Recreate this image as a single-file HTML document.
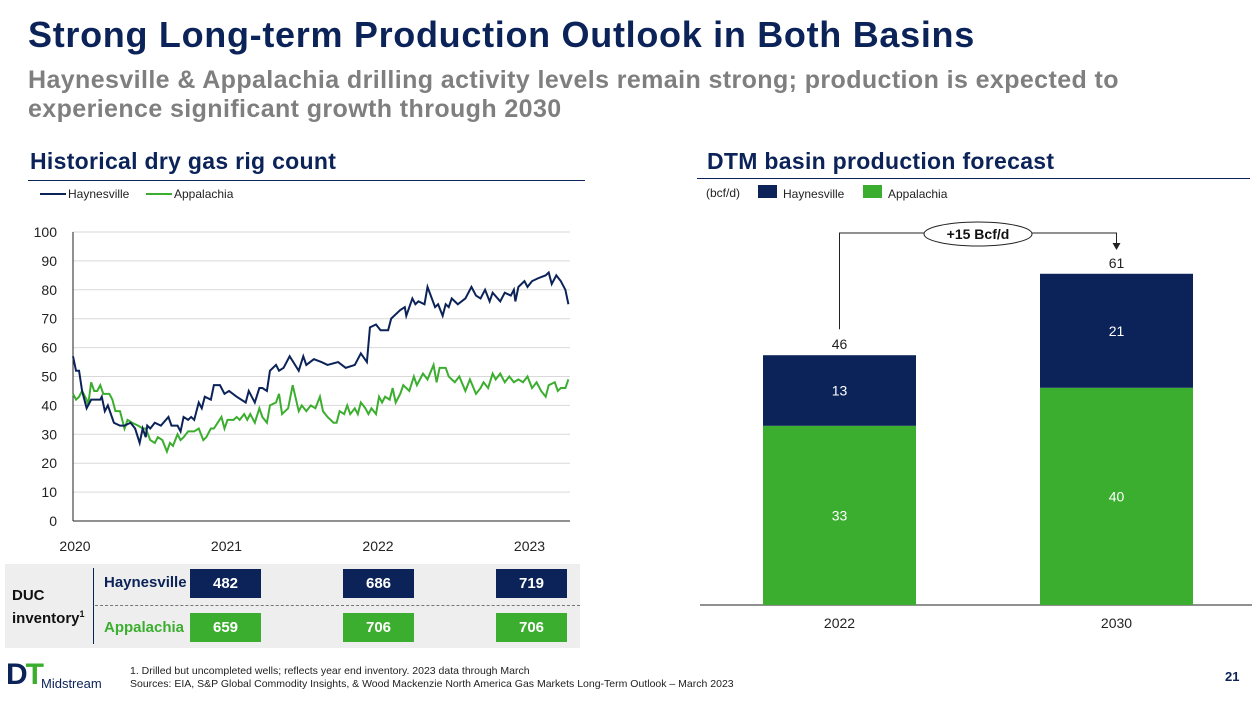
<!DOCTYPE html>
<html><head><meta charset="utf-8"><style>
body{margin:0;width:1257px;height:701px;background:#fff;font-family:"Liberation Sans",sans-serif;position:relative;overflow:hidden}
.abs{position:absolute}
</style></head><body>
<div class="abs" style="left:28px;top:14px;font-size:36px;font-weight:bold;color:#0b2358;letter-spacing:0.7px;white-space:nowrap">Strong Long-term Production Outlook in Both Basins</div>
<div class="abs" style="left:28px;top:66px;font-size:25px;font-weight:bold;color:#7f7f7f;line-height:29px;width:1165px;letter-spacing:0.4px">Haynesville &amp; Appalachia drilling activity levels remain strong; production is expected to experience significant growth through 2030</div>
<div class="abs" style="left:30px;top:148px;font-size:23px;font-weight:bold;color:#0b2358;letter-spacing:0.3px">Historical dry gas rig count</div>
<div class="abs" style="left:28px;top:180px;width:557px;height:1px;background:#0b2358"></div>
<div class="abs" style="left:707px;top:148px;font-size:23px;font-weight:bold;color:#0b2358;letter-spacing:0.3px">DTM basin production forecast</div>
<div class="abs" style="left:697px;top:178px;width:553px;height:1px;background:#0b2358"></div>

<svg class="abs" style="left:0;top:0" width="1257" height="701" id="svg">
<g font-size="12" fill="#222">
<line x1="40" y1="194" x2="66" y2="194" stroke="#0b2358" stroke-width="2"/><text x="68" y="198">Haynesville</text>
<line x1="146" y1="194" x2="172" y2="194" stroke="#3cae2f" stroke-width="2"/><text x="174" y="198">Appalachia</text>
</g>
<g font-size="12" fill="#222">
<text x="706" y="197">(bcf/d)</text>
<rect x="758" y="185" width="19" height="13" fill="#0b2358"/><text x="783" y="198">Haynesville</text>
<rect x="863" y="185" width="19" height="13" fill="#3cae2f"/><text x="888" y="198">Appalachia</text>
</g>
<g id="rig"></g>
<g id="bars"></g>
</svg>

<div class="abs" style="left:5px;top:564px;width:575px;height:84px;background:#eeeeee"></div>
<div class="abs" style="left:12px;top:586px;font-size:15px;font-weight:bold;color:#111;line-height:19px">DUC<br>inventory<sup style="font-size:9px">1</sup></div>
<div class="abs" style="left:93px;top:568px;width:1px;height:76px;background:#0b2358"></div>
<div class="abs" style="left:95px;top:605px;width:485px;border-top:1px dashed #777"></div>
<div class="abs" style="left:104px;top:574px;font-size:15px;font-weight:bold;color:#0b2358">Haynesville</div>
<div class="abs" style="left:104px;top:619px;font-size:15px;font-weight:bold;color:#3cae2f">Appalachia</div>
<div id="duc"></div>

<div class="abs" style="left:6px;top:660px;font-size:30px;font-weight:900;color:#3cae2f;letter-spacing:-2px;line-height:30px"><span style="color:#0b2358">D</span>T</div>
<div class="abs" style="left:41px;top:676px;font-size:13px;color:#0b2358">Midstream</div>
<div class="abs" style="left:130px;top:665px;font-size:10.5px;color:#222;line-height:13px;white-space:nowrap">1. Drilled but uncompleted wells; reflects year end inventory. 2023 data through March<br>Sources: EIA, S&amp;P Global Commodity Insights, &amp; Wood Mackenzie North America Gas Markets Long-Term Outlook – March 2023</div>
<div class="abs" style="left:1225px;top:669px;font-size:13px;font-weight:bold;color:#0b2358">21</div>

<script>
const yTicks=[0,10,20,30,40,50,60,70,80,90,100];
const xYears=[2020,2021,2022,2023];
const hX=[0,.02,.04,.06,.09,.12,.18,.19,.21,.23,.27,.31,.34,.38,.41,.44,.46,.48,.49,.51,.54,.58,.63,.65,.69,.71,.73,.76,.78,.80,.83,.85,.87,.91,.93,.97,1.00,1.03,1.08,1.14,1.16,1.20,1.23,1.25,1.28,1.30,1.34,1.36,1.39,1.43,1.49,1.52,1.54,1.59,1.64,1.68,1.75,1.80,1.86,1.90,1.94,1.96,2.00,2.03,2.08,2.10,2.16,2.19,2.20,2.24,2.26,2.28,2.32,2.34,2.39,2.41,2.44,2.46,2.48,2.50,2.54,2.59,2.63,2.66,2.69,2.72,2.75,2.77,2.82,2.85,2.89,2.91,2.92,2.94,2.98,3.00,3.03,3.07,3.12,3.14,3.16,3.19,3.22,3.25,3.27];
const hV=[57,52,52,45,39,42,42,43,38,40,34,33,33,34,32,27,32,29,33,32,34,33,36,33,33,31,36,35,36,35,41,39,43,42,47,47,44,45,43,41,45,41,46,46,45,52,54,52,53,57,52,57,54,56,55,54,55,53,54,58,55,67,68,66,66,70,73,74,71,77,75,76,75,81,74,75,71,75,74,77,75,77,81,78,77,80,76,79,76,79,78,80,76,81,83,81,83,84,85,86,82,85,83,80,75];
const aX=[0,.02,.04,.06,.09,.10,.12,.14,.16,.18,.20,.24,.26,.28,.31,.34,.36,.39,.43,.46,.48,.51,.54,.56,.59,.62,.64,.66,.69,.71,.73,.76,.80,.83,.86,.88,.91,.93,.98,1.00,1.02,1.06,1.08,1.10,1.13,1.15,1.17,1.20,1.23,1.25,1.28,1.30,1.34,1.36,1.38,1.42,1.45,1.49,1.51,1.54,1.57,1.60,1.63,1.65,1.68,1.72,1.74,1.76,1.79,1.81,1.83,1.86,1.88,1.90,1.93,1.95,1.97,2.00,2.02,2.04,2.06,2.09,2.11,2.13,2.16,2.18,2.22,2.25,2.27,2.31,2.34,2.38,2.40,2.42,2.46,2.48,2.52,2.55,2.59,2.62,2.66,2.69,2.71,2.74,2.77,2.79,2.82,2.85,2.88,2.91,2.94,2.97,3.00,3.03,3.06,3.09,3.12,3.14,3.18,3.20,3.22,3.25,3.27];
const aV=[44,42,43,45,42,40,48,45,45,47,44,44,42,38,38,32,35,34,33,32,32,28,27,29,28,24,27,26,30,28,29,31,31,32,28,29,32,32,36,32,35,35,36,35,37,35,37,34,39,36,34,40,41,44,37,39,47,38,40,38,40,39,43,38,36,34,34,38,37,40,37,39,37,41,39,37,39,37,43,41,43,42,46,41,44,47,45,50,47,51,49,54,48,53,53,50,48,50,45,49,44,46,48,46,51,49,51,48,50,48,49,48,50,46,48,45,43,47,48,45,46,46,49];
const barCats=['2022','2030'];
const appVals=[33,40];
const hayVals=[13,21];
const totals=[46,61];
const changeLabel='+15 Bcf/d';
const ducH=[482,686,719];
const ducA=[659,706,706];

const NS='http://www.w3.org/2000/svg';
function mk(tag,attrs,parent,txt){const e=document.createElementNS(NS,tag);for(const k in attrs)e.setAttribute(k,attrs[k]);if(txt!==undefined)e.textContent=txt;parent.appendChild(e);return e;}
const rig=document.getElementById('rig');
const X0=73,PXY=151.5,Y0=521,PXU=2.89;
const xs=t=>X0+t*PXY, ys=v=>Y0-v*PXU;
yTicks.forEach(t=>{
 if(t>0){const g=mk('line',{x1:73,x2:570,y1:ys(t),y2:ys(t),stroke:'#d9d9d9','stroke-width':1},rig);
 
 }
 const l=mk('text',{x:57,y:ys(t)+5,'text-anchor':'end','font-size':14,fill:'#222'},rig,t);
 
 
});
xYears.forEach(y=>{const l=mk('text',{x:xs(y-2020)+2,y:551,'text-anchor':'middle','font-size':14,fill:'#222'},rig,y);
 
 });
mk('line',{x1:73,x2:73,y1:232,y2:521,stroke:'#222'},rig);
mk('line',{x1:73,x2:570,y1:521,y2:521,stroke:'#222'},rig);
const pa=mk('polyline',{points:aX.map((t,i)=>xs(t)+','+ys(aV[i])).join(' '),fill:'none',stroke:'#3cae2f','stroke-width':2},rig);


const ph=mk('polyline',{points:hX.map((t,i)=>xs(t)+','+ys(hV[i])).join(' '),fill:'none',stroke:'#0b2358','stroke-width':2},rig);


const bars=document.getElementById('bars');
const BY=605,BS=5.43,bx=[763,1040],BW=153;
const by=v=>BY-v*BS;
mk('line',{x1:700,x2:1252,y1:BY,y2:BY,stroke:'#222'},bars);
barCats.forEach((c,i)=>{
 const a=mk('rect',{x:bx[i],y:by(appVals[i]),width:BW,height:appVals[i]*BS,fill:'#3cae2f'},bars);
 
 
 const h=mk('rect',{x:bx[i],y:by(appVals[i]+hayVals[i]),width:BW,height:hayVals[i]*BS,fill:'#0b2358'},bars);
 
 
 mk('text',{x:bx[i]+BW/2,y:by(appVals[i]/2)+5,'text-anchor':'middle','font-size':14,fill:'#fff'},bars,appVals[i]);
 mk('text',{x:bx[i]+BW/2,y:by(appVals[i]+hayVals[i]/2)+5,'text-anchor':'middle','font-size':14,fill:'#fff'},bars,hayVals[i]);
 const tl=mk('text',{x:bx[i]+BW/2,y:by(totals[i])-6,'text-anchor':'middle','font-size':14,fill:'#222'},bars,totals[i]);
 
 
 const xl=mk('text',{x:bx[i]+BW/2,y:628,'text-anchor':'middle','font-size':14,fill:'#222'},bars,c);
 
 
});
const c1=bx[0]+BW/2,c2=bx[1]+BW/2;
const br=mk('polyline',{points:`${c1},${by(totals[0])-26} ${c1},233 ${c2},233 ${c2},244`,fill:'none',stroke:'#222'},bars);


mk('polygon',{points:`${c2-4},243 ${c2+4},243 ${c2},250`,fill:'#222'},bars);
const el=mk('ellipse',{cx:978,cy:234,rx:54,ry:12,fill:'#fff',stroke:'#222'},bars);


mk('text',{x:978,y:239,'text-anchor':'middle','font-size':14,'font-weight':'bold',fill:'#111'},bars,changeLabel);
const duc=document.getElementById('duc');
const dx=[190,343,496];
[[ducH,'#0b2358',569,'haynesville'],[ducA,'#3cae2f',613,'appalachia']].forEach(([vals,col,top,nm])=>{
 vals.forEach((v,i)=>{const d=document.createElement('div');d.className='abs';
 d.style.cssText=`left:${dx[i]}px;top:${top}px;width:71px;height:29px;background:${col};color:#fff;font-weight:bold;font-size:15px;text-align:center;line-height:29px`;
 d.textContent=v;
 
 
 duc.appendChild(d);});
});
</script>
</body></html>
